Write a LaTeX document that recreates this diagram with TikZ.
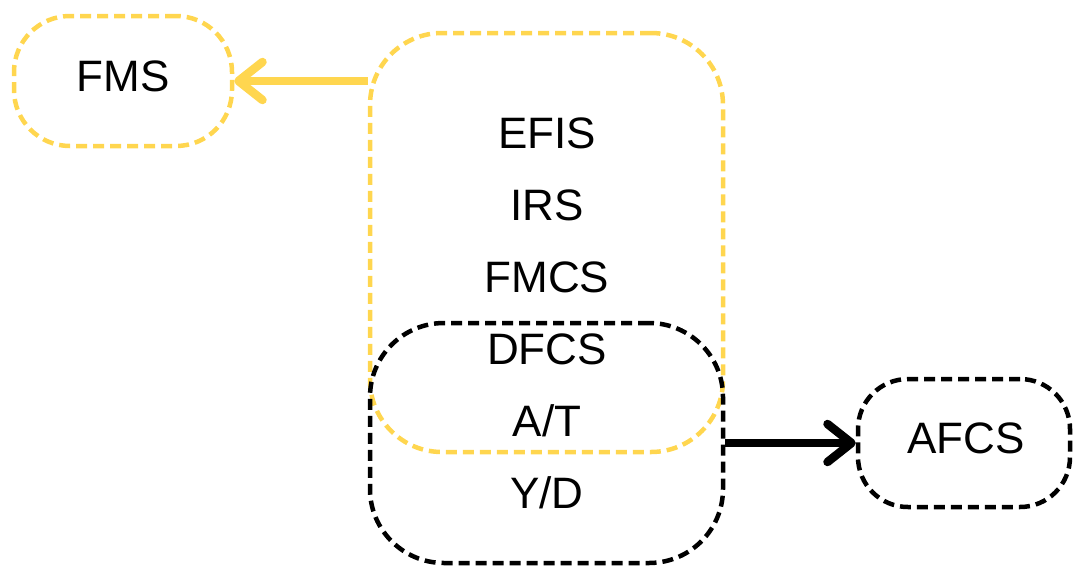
\documentclass[tikz,border=0pt]{standalone}
\usepackage{fontspec}
\setmainfont{Liberation Sans}
\usetikzlibrary{arrows.meta}

\definecolor{sysyellow}{RGB}{255,214,79}

\begin{document}
\begin{tikzpicture}[x=1pt,y=-1pt,
  sysbox/.style={shape=rectangle,draw=black,dash pattern=on 11pt off 6pt,line width=4.5pt,inner sep=0pt},
  sysY/.style={sysbox,draw=sysyellow},
  label/.style={font=\fontsize{44}{52}\selectfont},
  flow/.style={line width=8.5pt,-{Straight Barb[round,length=24pt,width=38pt]}}]
\def\dy{72};
\def\xm{547};

\useasboundingbox (0,0) rectangle (1073,565);

\node[sysY,minimum width=218pt,minimum height=130pt,rounded corners=56pt] (fms) at (123,81) {};
\node[label] at (123,76) {FMS};

\node[sysY,minimum width=353pt,minimum height=419pt,rounded corners=72pt] (grp) at (546.5,242.5) {};
\node[sysbox,minimum width=353pt,minimum height=240pt,rounded corners=74pt] (ctl) at (546.5,443) {};

\node[sysbox,minimum width=212pt,minimum height=128pt,rounded corners=50pt] (afcs) at (964,443) {};
\node[label] at (966,438) {AFCS};

\node[label] (efis) at (\xm,133) {EFIS};
\node[label] (irs) at (\xm,133+\dy) {IRS};
\node[label] (fmcs) at (\xm,133+2*\dy) {FMCS};
\node[label] (dfcs) at (\xm,133+3*\dy) {DFCS};
\node[label] (at) at (\xm,133+4*\dy) {A/T};
\node[label] (yd) at (\xm,133+5*\dy) {Y/D};

\draw[flow,sysyellow] (grp.west |- fms) -- (fms.east);
\draw[flow,black] (ctl.east) -- (afcs.west);
\end{tikzpicture}
\end{document}
